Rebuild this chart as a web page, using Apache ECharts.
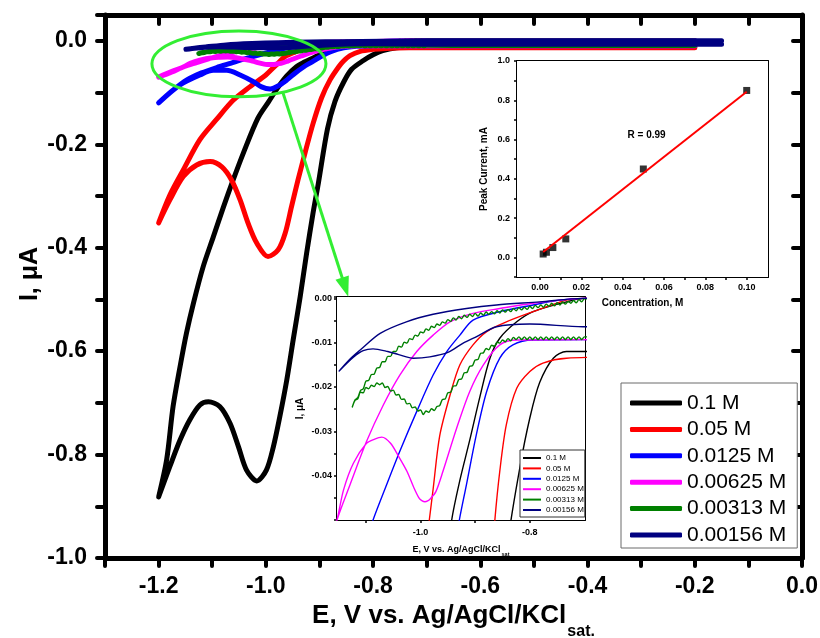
<!DOCTYPE html>
<html>
<head>
<meta charset="utf-8">
<script src="https://cdn.jsdelivr.net/npm/echarts@6/dist/echarts.min.js"></script>
<style>
  html, body { margin: 0; padding: 0; background: #fff; }
  #c { width: 820px; height: 638px; }
</style>
</head>
<body>
<div id="c"></div>
<script>
// ---------------- data ----------------
const concLabels = ['0.1 M', '0.05 M', '0.0125 M', '0.00625 M', '0.00313 M', '0.00156 M'];

// cyclic voltammograms, [E (V), I (uA)], cathodic branch first, then the return sweep
const cv_0_1 = [
  [-0.2,-0.012],[-0.6,-0.012],[-0.733,-0.012],[-0.757,-0.0135],[-0.782,-0.019],[-0.8,-0.027],
  [-0.818,-0.038],[-0.84,-0.055],[-0.855,-0.08],[-0.871,-0.117],[-0.885,-0.17],[-0.902,-0.275],
  [-0.912,-0.333],[-0.924,-0.411],[-0.936,-0.495],[-0.949,-0.578],[-0.961,-0.656],[-0.974,-0.727],
  [-0.986,-0.785],[-0.999,-0.83],[-1.017,-0.851],[-1.036,-0.83],[-1.051,-0.785],[-1.067,-0.739],
  [-1.086,-0.707],[-1.107,-0.698],[-1.123,-0.704],[-1.142,-0.733],[-1.16,-0.772],[-1.179,-0.823],
  [-1.2,-0.882],
  [-1.185,-0.81],[-1.173,-0.707],[-1.16,-0.63],[-1.148,-0.565],[-1.135,-0.507],[-1.117,-0.437],
  [-1.098,-0.379],[-1.079,-0.321],[-1.061,-0.269],[-1.042,-0.217],[-1.015,-0.15],[-0.995,-0.118],
  [-0.978,-0.091],[-0.961,-0.068],[-0.943,-0.05],[-0.928,-0.041],[-0.91,-0.032],[-0.891,-0.022],
  [-0.873,-0.0135],[-0.855,-0.009],[-0.824,-0.0053],[-0.794,-0.003],[-0.733,-0.0008],[-0.7,0],[-0.2,0]
];

const cv_0_05 = [
  [-0.2,-0.0132],[-0.6,-0.0132],[-0.733,-0.0135],[-0.776,-0.0146],[-0.8,-0.0165],[-0.824,-0.0203],
  [-0.843,-0.0285],[-0.855,-0.039],[-0.864,-0.05],[-0.88,-0.075],[-0.896,-0.11],[-0.912,-0.16],
  [-0.927,-0.217],[-0.94,-0.269],[-0.952,-0.32],[-0.964,-0.372],[-0.977,-0.404],[-0.996,-0.417],
  [-1.017,-0.391],[-1.033,-0.353],[-1.048,-0.3075],[-1.064,-0.269],[-1.082,-0.2437],[-1.104,-0.2334],
  [-1.129,-0.24],[-1.154,-0.2624],[-1.179,-0.3075],[-1.2,-0.352],
  [-1.179,-0.298],[-1.154,-0.2495],[-1.123,-0.191],[-1.092,-0.152],[-1.061,-0.115],
  [-1.03,-0.089],[-1.0,-0.066],[-0.984,-0.05],[-0.977,-0.043],[-0.965,-0.031],[-0.946,-0.0218],
  [-0.928,-0.015],[-0.904,-0.0105],[-0.879,-0.0075],[-0.843,-0.0053],[-0.794,-0.003],
  [-0.733,-0.0004],[-0.7,0],[-0.2,0]
];

const cv_0_0125 = [
  [-0.2,-0.0093],[-0.6,-0.0093],[-0.794,-0.0094],[-0.831,-0.0105],[-0.855,-0.0135],[-0.879,-0.021],
  [-0.898,-0.0308],[-0.916,-0.042],[-0.929,-0.05],[-0.945,-0.062],[-0.96,-0.075],[-0.975,-0.086],
  [-0.992,-0.093],[-1.008,-0.089],[-1.023,-0.079],[-1.048,-0.066],[-1.073,-0.057],[-1.098,-0.057],
  [-1.123,-0.066],[-1.16,-0.085],[-1.185,-0.106],[-1.2,-0.12],
  [-1.175,-0.097],[-1.148,-0.076],[-1.12,-0.062],[-1.087,-0.05],[-1.062,-0.042],[-1.038,-0.0345],
  [-1.007,-0.0255],[-0.977,-0.0173],[-0.952,-0.012],[-0.928,-0.0083],[-0.904,-0.0049],
  [-0.855,-0.003],[-0.794,-0.0015],[-0.745,-0.0004],[-0.7,0],[-0.2,0]
];

const cv_0_00625 = [
  [-0.2,-0.0093],[-0.6,-0.0093],[-0.824,-0.0094],[-0.855,-0.0105],[-0.885,-0.015],[-0.91,-0.021],
  [-0.934,-0.0293],[-0.959,-0.039],[-0.972,-0.0436],[-0.982,-0.0452],[-0.987,-0.0457],
  [-0.992,-0.0459],[-0.997,-0.0457],[-1.003,-0.045],[-1.013,-0.0425],[-1.025,-0.039],
  [-1.04,-0.0357],[-1.055,-0.0327],[-1.071,-0.0313],[-1.085,-0.0318],[-1.099,-0.0327],
  [-1.123,-0.0372],[-1.141,-0.0432],[-1.153,-0.05],[-1.175,-0.059],[-1.2,-0.07],
  [-1.175,-0.06],[-1.153,-0.05],[-1.129,-0.042],[-1.099,-0.0323],[-1.068,-0.024],[-1.038,-0.0173],
  [-1.007,-0.012],[-0.977,-0.0083],[-0.946,-0.0053],[-0.904,-0.0034],[-0.855,-0.0023],
  [-0.794,-0.0011],[-0.7,0],[-0.2,0]
];

// 0.00313 M: noisy trace, sampled every 5 mV between -0.700 and -1.125 V
const cv3E = [-0.700,-0.705,-0.710,-0.715,-0.720,-0.725,-0.730,-0.735,-0.740,-0.745,
  -0.750,-0.755,-0.760,-0.765,-0.770,-0.775,-0.780,-0.785,-0.790,-0.795,
  -0.800,-0.805,-0.810,-0.815,-0.820,-0.825,-0.830,-0.835,-0.840,-0.845,
  -0.850,-0.855,-0.860,-0.865,-0.870,-0.875,-0.880,-0.885,-0.890,-0.895,
  -0.900,-0.905,-0.910,-0.915,-0.920,-0.925,-0.930,-0.935,-0.940,-0.945,
  -0.950,-0.955,-0.960,-0.965,-0.970,-0.975,-0.980,-0.985,-0.990,-0.995,
  -1.000,-1.005,-1.010,-1.015,-1.020,-1.025,-1.030,-1.035,-1.040,-1.045,
  -1.050,-1.055,-1.060,-1.065,-1.070,-1.075,-1.080,-1.085,-1.090,-1.095,
  -1.100,-1.105,-1.110,-1.115,-1.120,-1.125];
const cv3Cathodic = [-0.0087,-0.0093,-0.0087,-0.0093,-0.0087,-0.0093,-0.0087,-0.0093,-0.0087,-0.0093,
  -0.0087,-0.0093,-0.0087,-0.0093,-0.0087,-0.0093,-0.0087,-0.0093,-0.0087,-0.0093,
  -0.0087,-0.0093,-0.0087,-0.0093,-0.0087,-0.0093,-0.0088,-0.0096,-0.0091,-0.0098,
  -0.0094,-0.0101,-0.0099,-0.0108,-0.0106,-0.0116,-0.0113,-0.0123,-0.0124,-0.0138,
  -0.0139,-0.0152,-0.0153,-0.0167,-0.0168,-0.0182,-0.0183,-0.0197,-0.0198,-0.0212,
  -0.0213,-0.0227,-0.0228,-0.0242,-0.0244,-0.0253,-0.0249,-0.0257,-0.0254,-0.0262,
  -0.0252,-0.0254,-0.0245,-0.0247,-0.0237,-0.0238,-0.0227,-0.0228,-0.0217,-0.0218,
  -0.0207,-0.0209,-0.0199,-0.0201,-0.0191,-0.0195,-0.0191,-0.0199,-0.0196,-0.0204,
  -0.0201,-0.0213,-0.0212,-0.0227,-0.0230,-0.0245];
const cv3Return = [-0.0001,-0.0008,-0.0003,-0.0010,-0.0005,-0.0011,-0.0007,-0.0013,-0.0008,-0.0015,
  -0.0010,-0.0017,-0.0011,-0.0018,-0.0013,-0.0020,-0.0015,-0.0021,-0.0016,-0.0023,
  -0.0018,-0.0025,-0.0020,-0.0026,-0.0021,-0.0028,-0.0023,-0.0030,-0.0025,-0.0031,
  -0.0026,-0.0033,-0.0028,-0.0035,-0.0030,-0.0036,-0.0031,-0.0038,-0.0033,-0.0040,
  -0.0034,-0.0041,-0.0036,-0.0043,-0.0038,-0.0046,-0.0041,-0.0049,-0.0044,-0.0052,
  -0.0048,-0.0056,-0.0053,-0.0061,-0.0058,-0.0066,-0.0063,-0.0072,-0.0069,-0.0078,
  -0.0076,-0.0085,-0.0083,-0.0093,-0.0091,-0.0101,-0.0099,-0.0110,-0.0108,-0.0120,
  -0.0120,-0.0131,-0.0131,-0.0143,-0.0143,-0.0156,-0.0157,-0.0171,-0.0172,-0.0185,
  -0.0187,-0.0204,-0.0208,-0.0224,-0.0229,-0.0245];
const cv3Tails = { cathodic: [[-0.2,-0.009],[-0.6,-0.009]], back: [[-0.6,-0.0004],[-0.2,-0.0004]] };

const cv_0_00156 = [
  [-0.15,-0.0064],[-0.6,-0.0064],[-0.703,-0.0064],[-0.8,-0.0058],[-0.861,-0.0064],[-0.9,-0.0088],
  [-0.922,-0.0101],[-0.95,-0.0122],[-0.983,-0.0132],[-1.013,-0.0135],[-1.04,-0.0127],[-1.06,-0.012],
  [-1.087,-0.0114],[-1.105,-0.0118],[-1.123,-0.0133],[-1.149,-0.0164],
  [-1.13,-0.0138],[-1.11,-0.0116],[-1.074,-0.0079],[-1.026,-0.0053],[-0.977,-0.0036],
  [-0.916,-0.0023],[-0.861,-0.0015],[-0.782,-0.0008],[-0.703,0],[-0.15,0]
];

// calibration: peak current vs concentration
const concM = [0.1, 0.05, 0.0125, 0.00625, 0.00313, 0.00156];
const peakCurrent = [0.85, 0.45, 0.094, 0.05, 0.026, 0.017];
const fitLine = [[0.00156, 0.027], [0.1, 0.843]];
const fitR = 'R = 0.99';

// tick values
const insetCalXTickLabels = [0, 0.02, 0.04, 0.06, 0.08, 0.10];
const insetCalXTicks = [0, 0.01, 0.02, 0.03, 0.04, 0.05, 0.06, 0.07, 0.08, 0.09, 0.10];
const insetCvXTickLabels = [-1.0, -0.8];
const insetCvXTicks = [-1.1, -1.0, -0.9, -0.8];

// ---------------- assembly ----------------
const cv_0_00313 = [].concat(
  cv3Tails.cathodic,
  cv3E.map((e, k) => [e, cv3Cathodic[k]]),
  cv3E.map((e, k) => [e, cv3Return[k]]).reverse(),
  cv3Tails.back
);
const curves = [cv_0_1, cv_0_05, cv_0_0125, cv_0_00625, cv_0_00313, cv_0_00156];
const colors = ['#000000', '#ff0000', '#0000ff', '#ff00ff', '#008000', '#000080'];
const FONT = 'Arial, "Liberation Sans", Helvetica, sans-serif';
const GREEN = '#33ee33';

function tenths(v) {
  const t = Math.round(v * 10);
  if (Math.abs(v * 10 - t) > 1e-6 || t % 2 !== 0) return '';
  return (t / 10).toFixed(1);
}
function tenthsPos(v) { return v < -1e-9 ? '' : tenths(v); }
function hundredths(v) {
  const t = Math.round(v * 1000);
  if (Math.abs(v * 1000 - t) > 1e-6 || t % 10 !== 0 || t <= -50) return '';
  return t === 0 ? '0.00' : (t / 1000).toFixed(2);
}

function axisBase(o) {
  return Object.assign({
    type: 'value',
    splitLine: { show: false },
    axisLine: { show: true, onZero: false, lineStyle: { color: '#000', width: 1 } },
  }, o);
}

const bold = (size) => ({ color: '#000', fontSize: size, fontWeight: 'bold', fontFamily: FONT });

const chart = echarts.init(document.getElementById('c'));

const series = [];
curves.forEach((d, i) => {
  series.push({
    type: 'line', name: concLabels[i], xAxisIndex: 0, yAxisIndex: 0, data: d,
    symbol: 'none', smooth: 0.3, silent: true, z: 2 + i * 0.01,
    lineStyle: { color: colors[i], width: 5, cap: 'round', join: 'round' },
    itemStyle: { color: colors[i] }
  });
});
curves.forEach((d, i) => {
  series.push({
    type: 'line', name: concLabels[i], xAxisIndex: 4, yAxisIndex: 4, data: d,
    symbol: 'none', smooth: 0.3, silent: true, z: 10,
    lineStyle: { color: colors[i], width: 1.4, join: 'round' },
    itemStyle: { color: colors[i] }
  });
});
series.push({
  type: 'scatter', name: 'peak', xAxisIndex: 2, yAxisIndex: 2, z: 10,
  data: concM.map((c, k) => [c, peakCurrent[k]]),
  symbol: 'rect', symbolSize: 7, itemStyle: { color: '#000' }, silent: true
});
series.push({
  type: 'line', name: 'fit', xAxisIndex: 2, yAxisIndex: 2, z: 11, data: fitLine,
  symbol: 'none', silent: true, lineStyle: { color: '#ff0000', width: 2 }
});

const option = {
  animation: false,
  backgroundColor: '#ffffff',
  grid: [
    { left: 105, top: 15, width: 697, height: 543, show: false, containLabel: false, outerBoundsMode: 'none' },
    { left: 517, top: 61, width: 251, height: 216, show: true, backgroundColor: '#fff', borderWidth: 0, z: 5, containLabel: false, outerBoundsMode: 'none' },
    { left: 337, top: 297, width: 248, height: 223, show: true, backgroundColor: '#fff', borderWidth: 0, z: 5, containLabel: false, outerBoundsMode: 'none' }
  ],
  xAxis: [
    axisBase({
      gridIndex: 0, position: 'bottom', min: -1.3, max: 0, interval: 0.1,
      axisLine: { show: true, onZero: false, lineStyle: { color: '#000', width: 5 } },
      axisTick: { show: true, length: 8, lineStyle: { color: '#000', width: 4, cap: 'round' } },
      axisLabel: Object.assign({ formatter: tenths, margin: 17 }, bold(23)),
      name: '{a|E, V vs. Ag/AgCl/KCl}{b|sat.}', nameLocation: 'middle', nameGap: 43, nameMoveOverlap: false,
      nameTextStyle: { rich: {
        a: Object.assign({ lineHeight: 30 }, bold(26)),
        b: Object.assign({ lineHeight: 16, padding: [32, 0, 0, 1] }, bold(16))
      } }
    }),
    axisBase({
      gridIndex: 0, position: 'top', min: -1.3, max: 0, interval: 0.1,
      axisLine: { show: true, onZero: false, lineStyle: { color: '#000', width: 5 } },
      axisTick: { show: true, inside: true, length: 9, lineStyle: { color: '#000', width: 4, cap: 'round' } },
      axisLabel: { show: false }
    }),
    axisBase({
      gridIndex: 1, position: 'bottom', min: -0.0111, max: 0.1103,
      axisLine: { show: true, onZero: false, lineStyle: { color: '#000', width: 2 } },
      axisTick: { show: true, length: 3, customValues: insetCalXTicks, lineStyle: { color: '#000', width: 1.5 } },
      axisLabel: Object.assign({ customValues: insetCalXTickLabels, formatter: (v) => v.toFixed(2), margin: 6 }, bold(9)),
      name: 'Concentration, M', nameLocation: 'middle', nameGap: 21, nameTextStyle: bold(10)
    }),
    axisBase({
      gridIndex: 1, position: 'top', min: -0.0111, max: 0.1103,
      axisLine: { show: true, onZero: false, lineStyle: { color: '#000', width: 2 } },
      axisTick: { show: true, inside: true, length: 3, customValues: insetCalXTicks, lineStyle: { color: '#000', width: 1.5 } },
      axisLabel: { show: false }
    }),
    axisBase({
      gridIndex: 2, position: 'bottom', min: -1.153, max: -0.699,
      axisLine: { show: true, onZero: false, lineStyle: { color: '#000', width: 2 } },
      axisTick: { show: true, length: 3, customValues: insetCvXTicks, lineStyle: { color: '#000', width: 1.5 } },
      axisLabel: Object.assign({ customValues: insetCvXTickLabels, formatter: (v) => v.toFixed(1), margin: 8 }, bold(9)),
      name: '{a|E, V vs. Ag/AgCl/KCl}{b|sat}', nameLocation: 'middle', nameGap: 25, nameMoveOverlap: false,
      nameTextStyle: { rich: {
        a: Object.assign({ lineHeight: 10 }, bold(9)),
        b: Object.assign({ lineHeight: 6, padding: [8, 0, 0, 1] }, bold(5.5))
      } }
    }),
    axisBase({
      gridIndex: 2, position: 'top', min: -1.153, max: -0.699,
      axisLine: { show: true, onZero: false, lineStyle: { color: '#000', width: 2 } },
      axisTick: { show: true, inside: true, length: 3, customValues: insetCvXTicks, lineStyle: { color: '#000', width: 1.5 } },
      axisLabel: { show: false }
    })
  ],
  yAxis: [
    axisBase({
      gridIndex: 0, position: 'left', min: -1.0, max: 0.05, interval: 0.1,
      axisLine: { show: true, onZero: false, lineStyle: { color: '#000', width: 5 } },
      axisTick: { show: true, length: 8, lineStyle: { color: '#000', width: 4, cap: 'round' } },
      axisLabel: Object.assign({ formatter: tenths, margin: 18 }, bold(23)),
      name: 'I, \u03bcA', nameLocation: 'middle', nameGap: 62, nameMoveOverlap: false,
      nameTextStyle: Object.assign({ padding: [0, 0, 0, 25] }, bold(25))
    }),
    axisBase({
      gridIndex: 0, position: 'right', min: -1.0, max: 0.05, interval: 0.1,
      axisLine: { show: true, onZero: false, lineStyle: { color: '#000', width: 5 } },
      axisTick: { show: true, inside: true, length: 9, lineStyle: { color: '#000', width: 4, cap: 'round' } },
      axisLabel: { show: false }
    }),
    axisBase({
      gridIndex: 1, position: 'left', min: -0.1, max: 1.0, interval: 0.1,
      axisLine: { show: true, onZero: false, lineStyle: { color: '#000', width: 2 } },
      axisTick: { show: true, length: 3, lineStyle: { color: '#000', width: 1.5 } },
      axisLabel: Object.assign({ formatter: tenthsPos, margin: 7 }, bold(9)),
      name: 'Peak Current, mA', nameLocation: 'middle', nameGap: 28, nameTextStyle: bold(10)
    }),
    axisBase({
      gridIndex: 1, position: 'right', min: -0.1, max: 1.0, interval: 0.1,
      axisLine: { show: true, onZero: false, lineStyle: { color: '#000', width: 2 } },
      axisTick: { show: true, inside: true, length: 3, lineStyle: { color: '#000', width: 1.5 } },
      axisLabel: { show: false }
    }),
    axisBase({
      gridIndex: 2, position: 'left', min: -0.05, max: 0.0003, interval: 0.005,
      axisLine: { show: true, onZero: false, lineStyle: { color: '#000', width: 2 } },
      axisTick: { show: true, length: 3, lineStyle: { color: '#000', width: 1.5 } },
      axisLabel: Object.assign({ formatter: hundredths, margin: 5 }, bold(9)),
      name: 'I, \u03bcA', nameLocation: 'middle', nameGap: 32, nameTextStyle: bold(10)
    }),
    axisBase({
      gridIndex: 2, position: 'right', min: -0.05, max: 0.0003, interval: 0.005,
      axisLine: { show: true, onZero: false, lineStyle: { color: '#000', width: 2 } },
      axisTick: { show: true, inside: true, length: 3, lineStyle: { color: '#000', width: 1.5 } },
      axisLabel: { show: false }
    })
  ],
  legend: [
    {
      data: concLabels, orient: 'vertical', left: 621, top: 383,
      padding: [8, 11, 1, 9], itemWidth: 52, itemHeight: 5, itemGap: 2.4,
      icon: 'roundRect', selectedMode: false,
      backgroundColor: '#fff', borderColor: '#6b6b6b', borderWidth: 1,
      textStyle: { color: '#000', fontSize: 21, lineHeight: 24, fontFamily: FONT }
    },
    {
      data: concLabels, orient: 'vertical', left: 520, top: 450,
      padding: [3, 1, 2, 3], itemWidth: 18, itemHeight: 2, itemGap: 0.4,
      icon: 'rect', selectedMode: false, z: 20,
      backgroundColor: '#fff', borderColor: '#333', borderWidth: 1,
      textStyle: { color: '#000', fontSize: 8, lineHeight: 10, fontFamily: FONT }
    }
  ],
  series: series
};

chart.setOption(option);

// zoom annotation (main axes units) and the arrow pointing at the enlarged view
const zoomBox = { eMin: -1.2125, eMax: -0.8879, iMin: -0.1083, iMax: 0.0193 };
const arrowFrom = [-0.968, -0.1006];
const arrowTo = [-0.8463, -0.4946];
const rLabelAt = [0.0516, 0.621];

const p0 = chart.convertToPixel({ gridIndex: 0 }, [zoomBox.eMin, zoomBox.iMax]);
const p1 = chart.convertToPixel({ gridIndex: 0 }, [zoomBox.eMax, zoomBox.iMin]);
const a0 = chart.convertToPixel({ gridIndex: 0 }, arrowFrom);
const a1 = chart.convertToPixel({ gridIndex: 0 }, arrowTo);
const rPos = chart.convertToPixel({ gridIndex: 1 }, rLabelAt);

const dx = a1[0] - a0[0], dy = a1[1] - a0[1];
const len = Math.sqrt(dx * dx + dy * dy);
const ux = dx / len, uy = dy / len;
const headLen = 20, headHalf = 7;
const bx = a1[0] - ux * headLen, by = a1[1] - uy * headLen;

chart.setOption({
  graphic: [
    {
      type: 'ellipse', z: 50, silent: true,
      shape: { cx: (p0[0] + p1[0]) / 2, cy: (p0[1] + p1[1]) / 2, rx: (p1[0] - p0[0]) / 2, ry: (p1[1] - p0[1]) / 2 },
      style: { fill: 'none', stroke: GREEN, lineWidth: 3 }
    },
    {
      type: 'line', z: 50, silent: true,
      shape: { x1: a0[0], y1: a0[1], x2: bx + ux * 2, y2: by + uy * 2 },
      style: { stroke: GREEN, lineWidth: 3 }
    },
    {
      type: 'polygon', z: 50, silent: true,
      shape: { points: [[a1[0], a1[1]], [bx - uy * headHalf, by + ux * headHalf], [bx + uy * headHalf, by - ux * headHalf]] },
      style: { fill: GREEN }
    },
    {
      type: 'text', z: 50, silent: true, x: rPos[0], y: rPos[1],
      style: { text: fitR, fill: '#000', font: 'bold 10px ' + FONT, textAlign: 'center', textVerticalAlign: 'middle' }
    }
  ]
});
</script>
</body>
</html>
